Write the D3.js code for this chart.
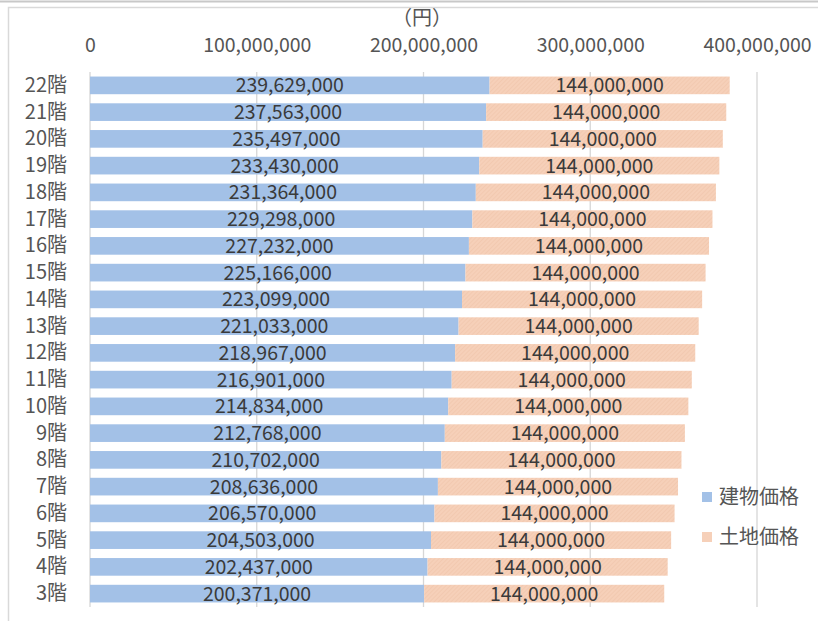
<!DOCTYPE html>
<html>
<head>
<meta charset="utf-8">
<script src="https://cdn.jsdelivr.net/npm/d3@7"></script>
<style>
  html, body { margin: 0; padding: 0; background: #fff; }
  svg { display: block; }
  text { font-family: "Noto Sans CJK JP", "Noto Sans", sans-serif; }
</style>
</head>
<body>
<svg id="chart" width="818" height="621"></svg>
<script>
// Floors, from top to bottom
const floors = ["22階","21階","20階","19階","18階","17階","16階","15階","14階","13階","12階","11階","10階","9階","8階","7階","6階","5階","4階","3階"];
// Building price per floor (円)
const buildingPrice = [239629000,237563000,235497000,233430000,231364000,229298000,227232000,225166000,223099000,221033000,218967000,216901000,214834000,212768000,210702000,208636000,206570000,204503000,202437000,200371000];
// Land price per floor (円)
const landPrice = [144000000,144000000,144000000,144000000,144000000,144000000,144000000,144000000,144000000,144000000,144000000,144000000,144000000,144000000,144000000,144000000,144000000,144000000,144000000,144000000];
const xTicks = [0, 100000000, 200000000, 300000000, 400000000];
const seriesNames = ["建物価格", "土地価格"];

const svg = d3.select("#chart");
const fmt = d3.format(",");

// outer frame
svg.append("line").attr("x1", 0).attr("x2", 818).attr("y1", 1.5).attr("y2", 1.5)
  .attr("stroke", "#c8c8c8").attr("stroke-width", 2);
svg.append("rect").attr("x", 8.5).attr("y", 7.5).attr("width", 830).attr("height", 640)
  .attr("fill", "none").attr("stroke", "#d9d9d9").attr("stroke-width", 1.5);

const x = d3.scaleLinear().domain([0, 400000000]).range([90, 757]);
const y = d3.scaleBand().domain(floors).range([72, 607]).paddingInner(0.34).paddingOuter(0.17);

// hatched fill for the land segment
const defs = svg.append("defs");
const pat = defs.append("pattern").attr("id", "hatch").attr("patternUnits", "userSpaceOnUse")
  .attr("width", 3).attr("height", 3).attr("patternTransform", "rotate(45)");
pat.append("rect").attr("width", 3).attr("height", 3).attr("fill", "#f6d0b9");
pat.append("line").attr("x1", 0).attr("y1", 0).attr("x2", 0).attr("y2", 3)
  .attr("stroke", "#efc2a8").attr("stroke-width", 1);

// vertical gridlines
svg.append("g").selectAll("line").data(xTicks).join("line")
  .attr("x1", d => x(d)).attr("x2", d => x(d))
  .attr("y1", 72).attr("y2", 607)
  .attr("stroke", "#d6d6d6").attr("stroke-width", 1.3);

// top value axis
const xAxis = svg.append("g").attr("transform", "translate(0,55)")
  .call(d3.axisTop(x).tickValues(xTicks).tickFormat(fmt).tickSize(0));
xAxis.select(".domain").remove();
xAxis.selectAll("text").attr("font-size", 19.5).attr("fill", "#555")
  .attr("font-family", "'Noto Sans CJK JP', sans-serif");

// unit label
svg.append("text").attr("x", 422).attr("y", 25).attr("text-anchor", "middle")
  .attr("font-size", 20).attr("fill", "#555").text("（円）");

// category axis
const yAxis = svg.append("g").attr("transform", "translate(70,0)")
  .call(d3.axisLeft(y).tickSize(0));
yAxis.select(".domain").remove();
yAxis.selectAll("text").attr("font-size", 20).attr("fill", "#555")
  .attr("font-family", "'Noto Sans CJK JP', sans-serif").attr("dx", 0);

const rows = floors.map((f, i) => ({ floor: f, b: buildingPrice[i], l: landPrice[i] }));

// building segment
svg.append("g").selectAll("rect").data(rows).join("rect")
  .attr("x", x(0)).attr("y", d => y(d.floor))
  .attr("width", d => x(d.b) - x(0)).attr("height", y.bandwidth())
  .attr("fill", "#a3c1e7");

// land segment
svg.append("g").selectAll("rect").data(rows).join("rect")
  .attr("x", d => x(d.b)).attr("y", d => y(d.floor))
  .attr("width", d => x(d.b + d.l) - x(d.b)).attr("height", y.bandwidth())
  .attr("fill", "url(#hatch)");

// value labels
const lbl = svg.append("g").attr("font-size", 19.5).attr("fill", "#3a3a3a").attr("text-anchor", "middle");
lbl.selectAll("text.b").data(rows).join("text").attr("class", "b")
  .attr("x", d => (x(0) + x(d.b)) / 2).attr("y", d => y(d.floor) + y.bandwidth() / 2)
  .attr("dy", "0.36em").text(d => fmt(d.b));
lbl.selectAll("text.l").data(rows).join("text").attr("class", "l")
  .attr("x", d => (x(d.b) + x(d.b + d.l)) / 2).attr("y", d => y(d.floor) + y.bandwidth() / 2)
  .attr("dy", "0.36em").text(d => fmt(d.l));

// legend
const legend = svg.append("g");
const legFills = ["#a3c1e7", "#f6d0b9"];
seriesNames.forEach((n, i) => {
  const ly = 497 + i * 40;
  legend.append("rect").attr("x", 702).attr("y", ly - 5).attr("width", 10).attr("height", 10)
    .attr("fill", legFills[i]);
  legend.append("text").attr("x", 719).attr("y", ly).attr("dy", "0.36em")
    .attr("font-size", 20).attr("fill", "#555").text(n);
});
</script>
</body>
</html>
